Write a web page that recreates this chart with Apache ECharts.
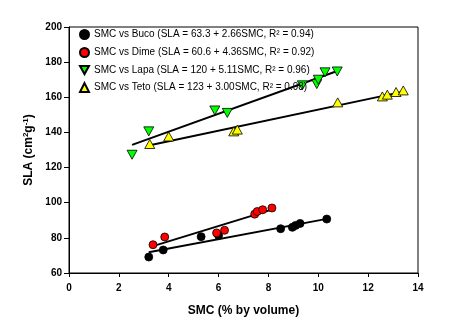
<!DOCTYPE html>
<html><head><meta charset="utf-8">
<script src="https://cdn.jsdelivr.net/npm/echarts@6/dist/echarts.min.js"></script>
<style>html,body{margin:0;padding:0;background:#fff}#c{width:451px;height:323px}</style>
</head><body><div id="c"></div>
<script>
var seriesNames = ['SMC vs Buco (SLA = 63.3 + 2.66SMC, R² = 0.94)','SMC vs Dime (SLA = 60.6 + 4.36SMC, R² = 0.92)','SMC vs Lapa (SLA = 120 + 5.11SMC, R² = 0.96)','SMC vs Teto (SLA = 123 + 3.00SMC, R² = 0.98)'];
var bucoX = [3.20,3.78,5.30,6.00,8.49,8.96,9.09,9.27,10.34];
var bucoY = [69.1,73.1,80.7,81.3,85.2,86.0,87.1,88.2,90.7];
var dimeX = [3.37,3.84,5.92,6.24,7.45,7.55,7.77,8.14];
var dimeY = [76.1,80.5,82.8,84.3,93.5,95.0,96.0,97.0];
var lapaX = [2.53,3.20,5.85,6.35,9.36,9.94,10.00,10.27,10.76];
var lapaY = [127.3,140.6,152.5,151.1,166.8,167.5,170.0,174.2,174.7];
var tetoX = [3.24,4.00,6.61,6.75,10.78,12.57,12.77,13.12,13.41];
var tetoY = [133.4,137.7,140.6,141.6,157.1,160.5,161.5,163.0,163.9];
var intercepts = [63.3,60.6,120,123];
var slopes = [2.66,4.36,5.11,3.00];
var xTicks = [0,2,4,6,8,10,12,14];
var yTicks = [60,80,100,120,140,160,180,200];

var xs=[bucoX,dimeX,lapaX,tetoX], ys=[bucoY,dimeY,lapaY,tetoY];
var colors=['#000000','#ff0000','#00ff00','#ffff00'];
var symbols=['circle','circle','path://M0,0 L10,0 L5,9 Z','triangle'];
var sizes=[8,8,[10,9],[10,9]];
var series=[];
for(var i=0;i<4;i++){
  var xmin=Math.min.apply(null,xs[i]), xmax=Math.max.apply(null,xs[i]);
  series.push({type:'line',data:[[xmin,intercepts[i]+slopes[i]*xmin],[xmax,intercepts[i]+slopes[i]*xmax]],
    symbol:'none',lineStyle:{color:'#000',width:2},silent:true,z:1});
}
for(var i=0;i<4;i++){
  series.push({name:seriesNames[i],type:'scatter',data:xs[i].map(function(x,j){return [x,ys[this][j]];},i),
    symbol:symbols[i],symbolSize:sizes[i],
    itemStyle:{color:colors[i],borderColor:'#000',borderWidth:0.8,opacity:1},z:3});
}
var chart=echarts.init(document.getElementById('c'),null,{renderer:'canvas'});
var f='Liberation Sans, Arial, sans-serif';
chart.setOption({
  animation:false,
  grid:{left:69,right:33,top:27,bottom:50,show:true,borderColor:'#000',borderWidth:1},
  legend:{orient:'vertical',left:74,top:24,itemWidth:9,itemHeight:9,itemGap:7,itemTextGap:15,
    data:seriesNames,textStyle:{fontFamily:f,fontSize:10,color:'#000'}},
  xAxis:{type:'value',min:0,max:14,interval:2,
    axisLine:{lineStyle:{color:'#000',width:1}},axisTick:{length:4,lineStyle:{color:'#000'}},
    splitLine:{show:false},
    axisLabel:{fontFamily:f,fontSize:10,fontWeight:'bold',color:'#000',margin:10,
      formatter:function(v){return xTicks.indexOf(v)>=0?String(v):'';}},
    name:'SMC (% by volume)',nameLocation:'middle',nameGap:32,
    nameTextStyle:{fontFamily:f,fontSize:12,fontWeight:'bold',color:'#000'}},
  yAxis:{type:'value',min:60,max:200,interval:20,
    axisLine:{lineStyle:{color:'#000',width:1}},axisTick:{length:5,lineStyle:{color:'#000'}},
    splitLine:{show:false},
    axisLabel:{fontFamily:f,fontSize:10,fontWeight:'bold',color:'#000',margin:7,
      formatter:function(v){return yTicks.indexOf(v)>=0?String(v):'';}},
    name:'{a|SLA (cm}{s|2}{a|g}{s|-1}{a|)}',nameLocation:'middle',nameGap:31,nameRotate:90,
    nameTextStyle:{rich:{a:{fontFamily:f,fontSize:12,fontWeight:'bold',color:'#000'},
      s:{fontFamily:f,fontSize:8,fontWeight:'bold',color:'#000',verticalAlign:'top',padding:[0,0,6,0]}}}},
  series:series
});
</script></body></html>
